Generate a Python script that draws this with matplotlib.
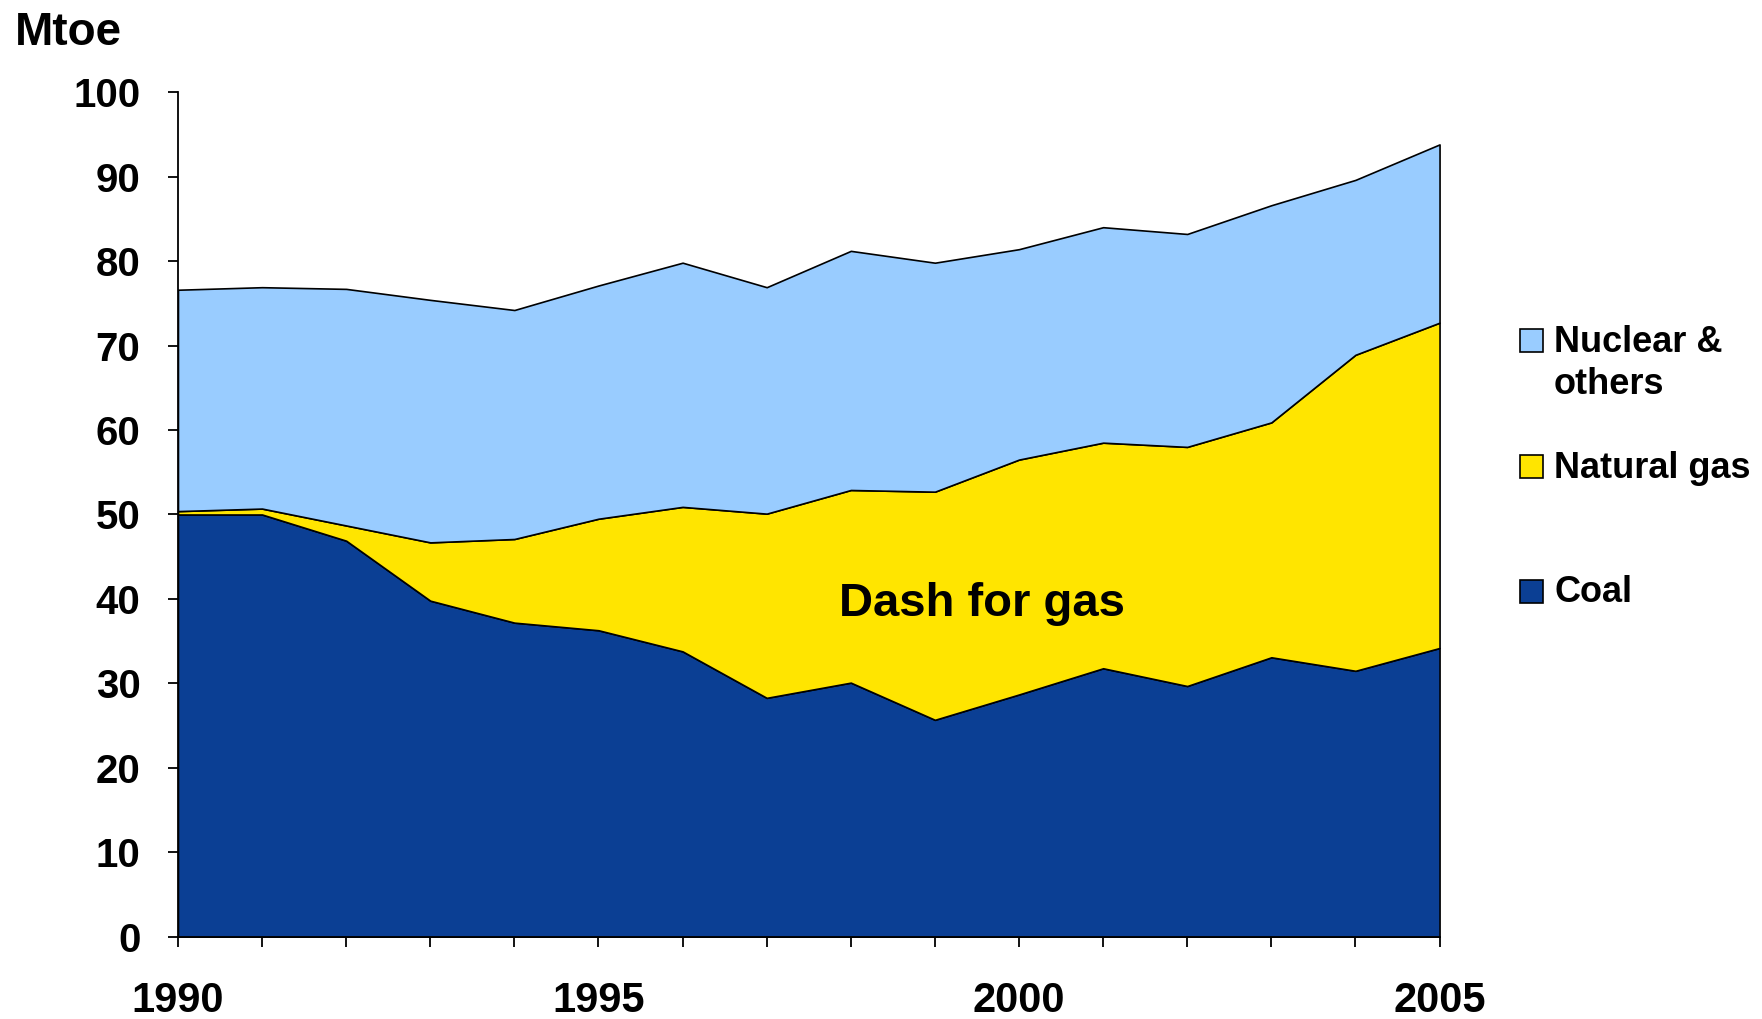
import numpy as np
import matplotlib.pyplot as plt
from matplotlib.patches import Rectangle

plt.rcParams['font.family'] = ['Liberation Sans', 'DejaVu Sans']
plt.rcParams['font.weight'] = 'bold'

years = np.arange(1990, 2006)
# Mtoe
coal = [50.0, 50.0, 46.9, 39.8, 37.2, 36.3, 33.8, 28.3, 30.1, 25.7, 28.7, 31.8, 29.7, 33.1, 31.5, 34.2]
gas_top = [50.4, 50.7, 48.7, 46.7, 47.1, 49.5, 50.9, 50.1, 52.9, 52.7, 56.5, 58.5, 58.0, 60.9, 68.9, 72.7]
total = [76.6, 76.9, 76.7, 75.4, 74.2, 77.1, 79.8, 76.9, 81.2, 79.8, 81.4, 84.0, 83.2, 86.6, 89.6, 93.8]

gas = np.array(gas_top) - np.array(coal)
nuclear = np.array(total) - np.array(gas_top)

labels = ['Coal', 'Natural gas', 'Nuclear &\nothers']
colors = ['#0B3F94', '#FFE500', '#99CCFF']

fig = plt.figure(figsize=(17.62, 10.19), dpi=100)
ax = fig.add_axes([0.101, 0.0805, 0.716, 0.8292])

ax.stackplot(years, coal, gas, nuclear, colors=colors,
             edgecolor='black', linewidth=1.2)

ax.set_xlim(1990, 2005)
ax.set_ylim(0, 100)
ax.set_xticks(years, minor=True)
ax.set_xticks([1990, 1995, 2000, 2005])
ax.set_yticks(np.arange(0, 101, 10))
ax.spines['top'].set_visible(False)
ax.spines['right'].set_visible(False)
ax.spines['left'].set_linewidth(1.3)
ax.spines['bottom'].set_linewidth(1.3)
ax.tick_params(axis='y', direction='out', length=7, width=1.3, pad=20, labelsize=29)
ax.tick_params(axis='x', which='both', direction='out', length=7, width=1.3, pad=25, labelsize=30)
for t in ax.get_xticklabels() + ax.get_yticklabels():
    t.set_fontweight('bold')

fig.text(0.0085, 0.968, 'Mtoe', fontsize=33, fontweight='bold', va='center', ha='left')

ax.text(1999.56, 39.4, 'Dash for gas', fontsize=34, fontweight='bold',
        ha='center', va='center')

# legend drawn by hand to keep the spacing of the original
leg_y = [340, 466, 591]
for lab, col, py in zip(labels[::-1], colors[::-1], leg_y):
    yf = 1 - py / 1019
    fig.add_artist(Rectangle((1520 / 1762, yf - 11.5 / 1019), 23 / 1762, 23 / 1019,
                             transform=fig.transFigure, facecolor=col,
                             edgecolor='black', linewidth=1.2))
    for i, line in enumerate(lab.split('\n')):
        fig.text(1554 / 1762, yf - i * 43 / 1019 - 2 / 1019, line, fontsize=26,
                 fontweight='bold', va='center', ha='left')

fig.savefig('out.png', dpi=100)
